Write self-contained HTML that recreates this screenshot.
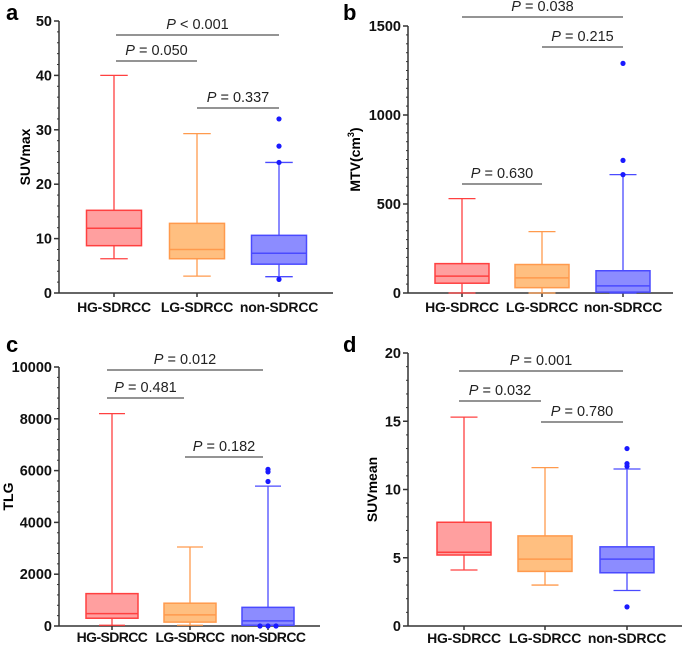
<!DOCTYPE html>
<html><head><meta charset="utf-8"><style>
body{margin:0;background:#fff;width:685px;height:645px;overflow:hidden}
svg{display:block;font-family:"Liberation Sans",Arial,sans-serif}
</style></head><body>
<svg id="fig" width="685" height="645"></svg>
<script>
const categories=["HG-SDRCC","LG-SDRCC","non-SDRCC"];
// panel a SUVmax
const aLo=[6.3,3.1,3.0], aQ1=[8.7,6.3,5.3], aMed=[11.9,8.0,7.3], aQ3=[15.2,12.8,10.6], aHi=[40,29.3,24];
const aOut=[[],[],[32,27,24,2.5]];
const aTicks=[0,10,20,30,40,50];
// panel b MTV
const bLo=[0,0,0], bQ1=[55,30,5], bMed=[95,85,40], bQ3=[165,160,125], bHi=[530,345,665];
const bOut=[[],[],[1290,745,665]];
const bTicks=[0,500,1000,1500];
// panel c TLG
const cLo=[30,30,30], cQ1=[300,150,30], cMed=[480,430,200], cQ3=[1250,880,720], cHi=[8200,3050,5400];
const cOut=[[],[],[6050,5950,5580,0,0,0]];
const cTicks=[0,2000,4000,6000,8000,10000];
// panel d SUVmean
const dLo=[4.1,3.0,2.6], dQ1=[5.2,4.0,3.9], dMed=[5.4,4.9,4.9], dQ3=[7.6,6.6,5.8], dHi=[15.3,11.6,11.5];
const dOut=[[],[],[13,11.9,11.7,1.4]];
const dTicks=[0,5,10,15,20];

const svg=document.getElementById('fig');
const NS='http://www.w3.org/2000/svg';
function mk(tag,attrs,parent,text){const e=document.createElementNS(NS,tag);for(const k in attrs)e.setAttribute(k,attrs[k]);if(text!==undefined)e.textContent=text;(parent||svg).appendChild(e);return e;}
const stroke=["#ff4040","#ff9a4d","#4a4aff"], fill=["#ff9f9f","#ffbf80","#8c8cff"];

function panel(p){
  const g=mk('g',{});
  
  
  const y=v=>p.y0-(v-p.min)/(p.max-p.min)*(p.y0-p.yTop);
  const x=i=>p.cx[i];
  const L=mk('text',{x:p.lx,y:p.ly,'font-size':22,'font-weight':'bold'},g,p.id);
  
  const ya=mk('line',{x1:p.ax,y1:p.yTop,x2:p.ax,y2:p.y0,stroke:'#333','stroke-width':1.5},g);
  
  const xa=mk('line',{x1:p.ax,y1:p.y0,x2:p.xEnd,y2:p.y0,stroke:'#333','stroke-width':1.5},g);
  
  for(let v=p.min;v<=p.max+1e-9;v+=p.minor){
    mk('line',{x1:p.ax-2,y1:y(v),x2:p.ax,y2:y(v),stroke:'#333','stroke-width':1},g);
  }
  p.ticks.forEach(t=>{
    mk('line',{x1:p.ax-5,y1:y(t),x2:p.ax,y2:y(t),stroke:'#333','stroke-width':1.5},g);
    const tl=mk('text',{x:p.ax-7,y:y(t)+5,'font-size':14.5,'font-weight':'bold','text-anchor':'end',fill:'#111'},g,t);
    
  });
  const yt=mk('text',{x:0,y:0,'font-size':14,'font-weight':'bold','text-anchor':'middle',transform:`translate(${p.titleX},${(p.yTop+p.y0)/2}) rotate(-90)`},g);
  
  if(p.title==='MTV'){yt.textContent='MTV(cm';mk('tspan',{'font-size':9,dy:-6},yt,'3');mk('tspan',{dy:6},yt,')');}
  else yt.textContent=p.title;
  categories.forEach((c,i)=>{
    mk('line',{x1:x(i),y1:p.y0,x2:x(i),y2:p.y0+4,stroke:'#333','stroke-width':1.5},g);
    const cl=mk('text',{x:x(i),y:p.y0+p.labDy,'font-size':14,'font-weight':'bold','text-anchor':'middle',fill:'#111','letter-spacing':p.ls},g,c);
    
    const hw=p.hw;
    const w1=mk('line',{x1:x(i),y1:y(p.hi[i]),x2:x(i),y2:y(p.q3[i]),stroke:stroke[i],'stroke-width':1.3},g);
    
    const w2=mk('line',{x1:x(i),y1:y(p.q1[i]),x2:x(i),y2:y(p.lo[i]),stroke:stroke[i],'stroke-width':1.3},g);
    
    mk('line',{x1:x(i)-hw/2,y1:y(p.hi[i]),x2:x(i)+hw/2,y2:y(p.hi[i]),stroke:stroke[i],'stroke-width':1.3},g);
    mk('line',{x1:x(i)-hw/2,y1:y(p.lo[i]),x2:x(i)+hw/2,y2:y(p.lo[i]),stroke:stroke[i],'stroke-width':1.3},g);
    const b=mk('rect',{x:x(i)-hw,y:y(p.q3[i]),width:2*hw,height:y(p.q1[i])-y(p.q3[i]),fill:fill[i],stroke:stroke[i],'stroke-width':1.5},g);
    
    const m=mk('line',{x1:x(i)-hw,y1:y(p.med[i]),x2:x(i)+hw,y2:y(p.med[i]),stroke:stroke[i],'stroke-width':1.5},g);
    
    const outs=p.out[i];let zc=0;const zeros=outs.filter(v=>v===0).length;
    let hc=0;
    outs.forEach(v=>{
      let ox=x(i);
      if(v===0){ox=x(i)+(zc-(zeros-1)/2)*8;zc++;}
      const d=mk('circle',{cx:ox,cy:y(v),r:2.6,fill:'#1a1aff'},g);
      
    });
  });
  p.sig.forEach(s=>{
    const l=mk('line',{x1:s[0],y1:s[2],x2:s[1],y2:s[2],stroke:'#555','stroke-width':1.2},g);
    
    const t=mk('text',{x:(s[0]+s[1])/2,y:s[2]-6,'font-size':14.5,'text-anchor':'middle',fill:'#222'},g);
    
    mk('tspan',{'font-style':'italic'},t,'P');
    mk('tspan',{},t,' '+s[3]);
  });
}
panel({id:'a',lx:6,ly:20,ax:59,y0:293,yTop:21,min:0,max:50,minor:2,ticks:aTicks,xEnd:333,cx:[114,197,279],hw:27.5,titleX:30,title:'SUVmax',labDy:19,ls:-0.2,
  lo:aLo,q1:aQ1,med:aMed,q3:aQ3,hi:aHi,out:aOut,
  sig:[[116,279,35,'< 0.001'],[116,197,61,'= 0.050'],[197,279,108,'= 0.337']]});
panel({id:'b',lx:343,ly:20,ax:408,y0:293,yTop:26,min:0,max:1500,minor:50,ticks:bTicks,xEnd:673,cx:[462,542,623],hw:27,titleX:360,title:'MTV',labDy:19,ls:-0.2,
  lo:bLo,q1:bQ1,med:bMed,q3:bQ3,hi:bHi,out:bOut,
  sig:[[462,623,17,'= 0.038'],[542,623,47,'= 0.215'],[462,542,184,'= 0.630']]});
panel({id:'c',lx:6,ly:352,ax:59,y0:626,yTop:367,min:0,max:10000,minor:400,ticks:cTicks,xEnd:320,cx:[112,190,268],hw:26,titleX:13,title:'TLG',labDy:16,ls:-0.6,
  lo:cLo,q1:cQ1,med:cMed,q3:cQ3,hi:cHi,out:cOut,
  sig:[[107,263,370,'= 0.012'],[107,184,398,'= 0.481'],[185,263,457,'= 0.182']]});
panel({id:'d',lx:343,ly:352,ax:408,y0:626,yTop:353,min:0,max:20,minor:1,ticks:dTicks,xEnd:682,cx:[464,545,627],hw:27,titleX:377,title:'SUVmean',labDy:17,ls:-0.2,
  lo:dLo,q1:dQ1,med:dMed,q3:dQ3,hi:dHi,out:dOut,
  sig:[[459,623,371,'= 0.001'],[459,541,401,'= 0.032'],[541,623,422,'= 0.780']]});
</script>
</body></html>
